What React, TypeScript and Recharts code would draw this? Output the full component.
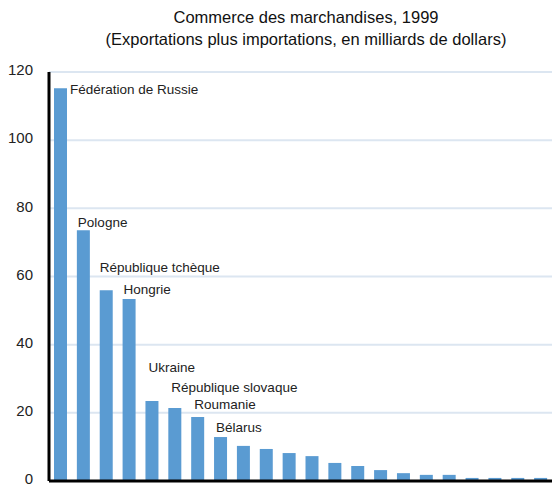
import { BarChart, Bar, XAxis, YAxis, CartesianGrid, ReferenceLine, LabelList } from 'recharts'

// Merchandise trade 1999, billions of dollars
const countries = [
  'Fédération de Russie',
  'Pologne',
  'République tchèque',
  'Hongrie',
  'Ukraine',
  'République slovaque',
  'Roumanie',
  'Bélarus',
  '', '', '', '', '', '', '', '', '', '', '', '', '', '',
]
const tradeValues = [
  115.2, 73.6, 56.0, 53.4, 23.5, 21.4, 18.8, 12.9, 10.3, 9.4, 8.2,
  7.3, 5.3, 4.4, 3.2, 2.3, 1.8, 1.8, 0.9, 0.9, 0.9, 0.9,
]
const yTicks = [0, 20, 40, 60, 80, 100, 120]

const title = 'Commerce des marchandises, 1999'
const subtitle = '(Exportations plus importations, en milliards de dollars)'

const data = tradeValues.map((value, i) => ({ id: i, name: countries[i], value }))

const FONT = '"Liberation Sans", Arial, sans-serif'
const BAR_COLOR = '#5a9bd2'

// hand placement of the country labels, relative to the bar's top-left corner
const labelOffsets: [number, number][] = [
  [16, 6],
  [1, -3],
  [0, -18],
  [1, -5],
  [3, -29],
  [3, -16],
  [3, -8],
  [2, -5],
]

// eslint-disable-next-line @typescript-eslint/no-explicit-any
function CountryLabel(props: any) {
  const { x, y, index, value } = props
  if (!value) return null
  const [dx, dy] = labelOffsets[index] ?? [0, -4]
  return (
    <text x={Number(x) + dx} y={Number(y) + dy} fill="#222" fontSize={13.5} fontFamily={FONT}>
      {value}
    </text>
  )
}

export default function App() {
  return (
    <div style={{ position: 'absolute', left: 0, top: 0, width: 552, height: 486, overflow: 'hidden', fontFamily: FONT, background: '#fff' }}>
      <div style={{ position: 'absolute', left: 306, top: 8, transform: 'translateX(-50%)', whiteSpace: 'nowrap', fontSize: 16.5, color: '#111' }}>
        {title}
      </div>
      <div style={{ position: 'absolute', left: 306, top: 30, transform: 'translateX(-50%)', whiteSpace: 'nowrap', fontSize: 16.5, color: '#111' }}>
        {subtitle}
      </div>
      <BarChart width={552} height={486} data={data} margin={{ top: 72, right: 0, bottom: 5, left: 0 }}>
        <CartesianGrid stroke="#dce6f1" strokeWidth={2} vertical={false} />
        <XAxis dataKey="id" tick={false} tickLine={false} axisLine={false} height={0} />
        <XAxis
          xAxisId="top"
          orientation="top"
          dataKey="id"
          tick={false}
          tickLine={false}
          height={0}
          axisLine={{ stroke: '#000', strokeWidth: 2 }}
        />
        <YAxis
          domain={[0, 120]}
          ticks={yTicks}
          interval={0}
          width={49}
          tickLine={false}
          tickMargin={10}
          axisLine={{ stroke: '#000', strokeWidth: 3 }}
          tick={{ fill: '#222', fontSize: 15, fontFamily: FONT, dy: -2 }}
        />
        <Bar dataKey="value" fill={BAR_COLOR} barSize={13} isAnimationActive={false}>
          <LabelList dataKey="name" content={CountryLabel} />
        </Bar>
        <ReferenceLine y={0} stroke="#000" strokeWidth={3} ifOverflow="visible" />
      </BarChart>
    </div>
  )
}
